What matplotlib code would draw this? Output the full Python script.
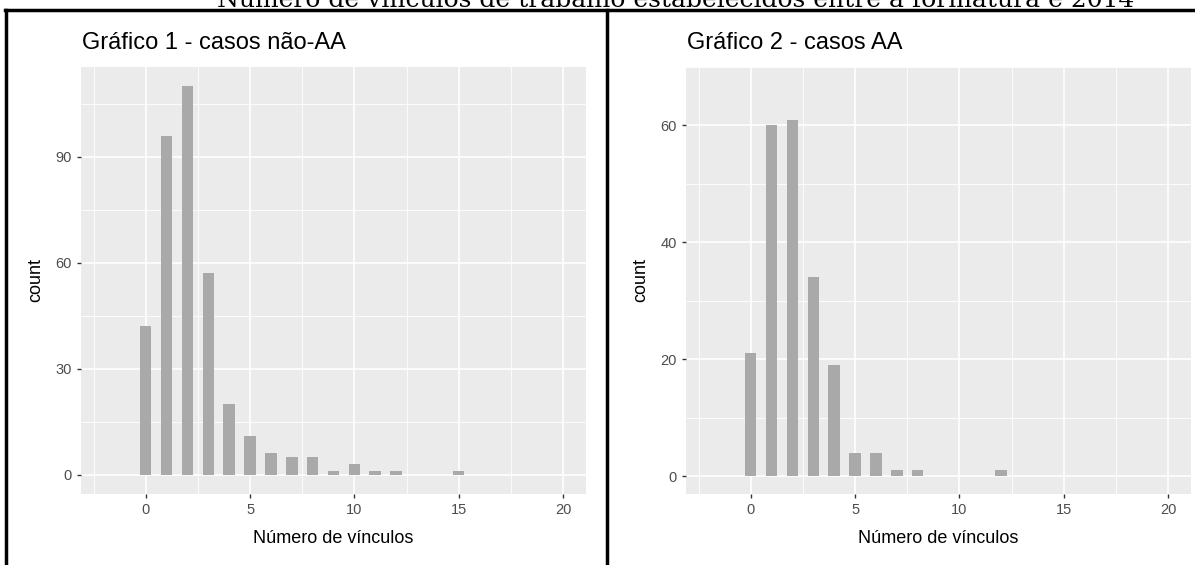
import matplotlib
matplotlib.use("Agg")
import matplotlib.pyplot as plt
from matplotlib.lines import Line2D

# dados
vinculos_nao_aa = [0, 1, 2, 3, 4, 5, 6, 7, 8, 9, 10, 11, 12, 15]
contagem_nao_aa = [42, 96, 110, 57, 20, 11, 6, 5, 5, 1, 3, 1, 1, 1]

vinculos_aa = [0, 1, 2, 3, 4, 5, 6, 7, 8, 12]
contagem_aa = [21, 60, 61, 34, 19, 4, 4, 1, 1, 1]

titulo_geral = "Número de vínculos de trabalho estabelecidos entre a formatura e 2014"
titulo_1 = "Gráfico 1 - casos não-AA"
titulo_2 = "Gráfico 2 - casos AA"
xticks = [0, 5, 10, 15, 20]
yticks_1 = [0, 30, 60, 90]
yticks_2 = [0, 20, 40, 60]

W, H = 1195, 565
fig = plt.figure(figsize=(W / 100, H / 100), dpi=100)
plt.rcParams['font.family'] = ['Liberation Sans', 'DejaVu Sans']


def px(x0, y0, w, h):
    return [x0 / W, 1 - (y0 + h) / H, w / W, h / H]


def painel(rect, x, y, yticks, titulo):
    ax = fig.add_axes(rect)
    ax.set_facecolor('#EBEBEB')
    ax.bar(x, y, width=0.55, color='#A9A9A9', zorder=3)
    ax.set_xlim(-3.1, 21.1)
    ymax = max(y)
    ax.set_ylim(-0.05 * ymax, ymax * 1.05)
    ax.set_xticks(xticks)
    ax.set_xticks([-2.5, 2.5, 7.5, 12.5, 17.5], minor=True)
    ax.set_yticks(yticks)
    passo = yticks[1] - yticks[0]
    ax.set_yticks([t + passo / 2 for t in yticks], minor=True)
    ax.grid(which='major', color='white', linewidth=1.2, zorder=0)
    ax.grid(which='minor', color='white', linewidth=0.6, zorder=0)
    ax.set_axisbelow(True)
    for s in ax.spines.values():
        s.set_visible(False)
    ax.tick_params(which='major', length=3, width=1, color='#333333',
                   labelcolor='#4D4D4D', labelsize=10.5, pad=3.5)
    ax.tick_params(which='minor', length=0)
    ax.set_xlabel('Número de vínculos', fontsize=13, color='black', labelpad=9)
    ax.set_ylabel('count', fontsize=13, color='black', labelpad=8)
    fig.text(rect[0] + 1 / W, 1 - 49 / H, titulo, fontsize=17, ha='left', va='baseline')
    return ax


painel(px(81, 67, 505, 427), vinculos_nao_aa, contagem_nao_aa, yticks_1, titulo_1)
painel(px(686, 67, 505, 427), vinculos_aa, contagem_aa, yticks_2, titulo_2)

# título cortado no topo da imagem
fig.text(676 / W, 1 - 7 / H, titulo_geral, fontsize=18, family='DejaVu Serif',
         ha='center', va='baseline')

# moldura
lw = 2.5
fig.add_artist(Line2D([5 / W, 1], [1 - 10 / H, 1 - 10 / H], color='black', lw=lw))
fig.add_artist(Line2D([6 / W, 6 / W], [0, 1 - 10 / H], color='black', lw=lw))
fig.add_artist(Line2D([607 / W, 607 / W], [0, 1 - 10 / H], color='black', lw=lw))

fig.savefig('out.png', dpi=100)
